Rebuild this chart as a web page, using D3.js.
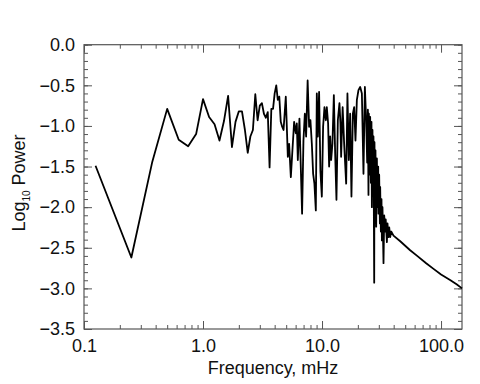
<!DOCTYPE html>
<html>
<head>
<meta charset="utf-8">
<script src="https://cdn.jsdelivr.net/npm/d3@7"></script>
<style>
  body { margin: 0; background: #fff; }
  text { font-family: "Liberation Sans", Arial, sans-serif; fill: #111; }
</style>
</head>
<body>
<div id="chart"></div>
<script>
// Espectro de potencia (log10) vs frecuencia en mHz

// tramo bajo: paso de 0.125 mHz
const lowFreq = [0.125, 0.25, 0.375, 0.5, 0.625, 0.75, 0.875, 1.0, 1.125, 1.25,
  1.375, 1.5, 1.625, 1.75, 1.875, 2.0, 2.125, 2.25, 2.375, 2.5, 2.625, 2.75,
  2.875, 3.0, 3.125, 3.25, 3.375, 3.5, 3.625, 3.75, 3.875, 4.0];
const lowPower = [-1.49, -2.62, -1.44, -0.79, -1.17, -1.25, -1.10, -0.67, -0.89, -0.98,
  -1.18, -0.94, -0.63, -1.26, -0.95, -0.82, -0.82, -1.05, -1.33, -1.13, -1.05, -0.61,
  -0.93, -0.75, -0.72, -0.85, -0.90, -0.83, -1.51, -0.79, -0.79, -0.60];

// tramo medio (muy ruidoso)
const midFreq = [4.125, 4.25, 4.375, 4.5, 4.625, 4.75, 4.96, 5.06, 5.16, 5.29, 5.47,
  5.64, 5.83, 6.02, 6.14, 6.26, 6.46, 6.80, 6.98, 7.17, 7.35, 7.57, 7.79, 7.99,
  8.21, 8.42, 8.63, 8.87, 9.04, 9.22, 9.45, 9.69, 9.96, 10.21, 10.48, 10.76, 10.97,
  11.25, 11.47, 11.70, 11.93, 12.23, 12.57, 12.89, 13.22, 13.58, 14.01, 14.28,
  14.47, 14.90, 15.34, 15.95, 16.35, 16.80, 17.23, 17.67, 18.16, 18.62, 19.10,
  19.62, 20.24, 20.92, 21.62, 22.30, 22.91];
const midPower = [-0.50, -0.68, -0.64, -0.95, -1.01, -1.05, -0.64, -1.01, -1.38, -1.22, -1.63,
  -1.30, -0.95, -1.09, -0.97, -1.42, -0.91, -2.08, -1.18, -0.85, -1.13, -0.44, -1.01, -0.93,
  -1.22, -1.59, -1.71, -2.04, -0.60, -1.13, -0.58, -1.55, -1.87, -1.01, -0.77, -0.93, -0.77,
  -0.97, -1.50, -1.13, -1.42, -1.22, -0.62, -1.34, -1.91, -0.93, -0.72, -0.97,
  -1.38, -0.77, -1.22, -1.71, -0.60, -1.42, -0.85, -1.87, -0.85, -0.77, -1.18,
  -0.68, -0.56, -0.52, -0.60, -1.59, -0.52];

// caída (banda densa)
const bandFreq = [23.49, 23.95, 24.28, 24.56, 24.75, 25.04, 25.38, 25.72, 26.03, 26.23,
  26.54, 26.75, 27.06, 27.44, 27.59, 27.97, 28.13, 28.51, 28.90, 29.24, 29.64, 29.81,
  30.21, 30.63, 30.80, 31.22, 31.60, 31.84, 32.21, 32.85, 33.30, 33.95, 34.28, 35.08,
  35.48, 36.18, 36.68, 37.39, 38.13, 39.86];
const bandPower = [-0.93, -1.45, -0.80, -1.85, -0.85, -1.60, -0.89, -1.70, -0.95, -2.00,
  -1.05, -1.83, -1.13, -2.93, -1.20, -2.10, -1.30, -2.24, -1.40, -2.00, -1.50, -2.08,
  -1.60, -2.20, -1.75, -2.30, -1.90, -2.41, -2.00, -2.69, -2.10, -2.30, -2.15, -2.43,
  -2.20, -2.37, -2.25, -2.37, -2.30, -2.35];

// cola suave
const tailFreq = [45.4, 55, 63, 75, 86.5, 100, 120, 135, 150];
const tailPower = [-2.42, -2.53, -2.60, -2.69, -2.76, -2.83, -2.90, -2.95, -3.00];

// ticks
const xMajor = [0.1, 1, 10, 100];
const xMinor = [0.2, 0.3, 0.4, 0.5, 0.6, 0.7, 0.8, 0.9, 2, 3, 4, 5, 6, 7, 8, 9,
  20, 30, 40, 50, 60, 70, 80, 90];
const yMajor = [0, -0.5, -1, -1.5, -2, -2.5, -3, -3.5];
const yMinor = d3.range(-35, 1).map(d => d / 10);

const WIDTH = 480;
const HEIGHT = 384;
const MARGIN = { top: 44.7, bottom: 55, left: 84, right: 18 };
const AXIS_COLOR = "#555";

const svg = d3.select("#chart").append("svg")
  .attr("width", WIDTH)
  .attr("height", HEIGHT);

const x = d3.scaleLog().domain([0.1, 150]).range([MARGIN.left, WIDTH - MARGIN.right]);
const y = d3.scaleLinear().domain([-3.5, 0]).range([HEIGHT - MARGIN.bottom, MARGIN.top]);

const datos = []
  .concat(lowFreq.map((f, i) => ({ f, p: lowPower[i] })))
  .concat(midFreq.map((f, i) => ({ f, p: midPower[i] })))
  .concat(bandFreq.map((f, i) => ({ f, p: bandPower[i] })))
  .concat(tailFreq.map((f, i) => ({ f, p: tailPower[i] })));

// ejes: ticks hacia adentro en los 4 lados
function dibujarEje(axis, transform, labels) {
  const g = svg.append("g").attr("transform", transform).call(axis);
  g.select(".domain").remove();
  g.selectAll(".tick line").attr("stroke", AXIS_COLOR).attr("stroke-width", 1);
  g.selectAll("text")
    .attr("font-size", 18)
    .attr("fill", "#111")
    .style("display", labels ? null : "none");
  return g;
}

const yBot = y(-3.5), yTop = y(0), xL = x(0.1), xR = x(150);
const fmt = d3.format(".1f");

dibujarEje(d3.axisBottom(x).tickValues(xMajor).tickSize(-8).tickPadding(10).tickFormat(fmt), `translate(0,${yBot})`, true);
dibujarEje(d3.axisBottom(x).tickValues(xMinor).tickSize(-4).tickFormat(""), `translate(0,${yBot})`, false);
dibujarEje(d3.axisTop(x).tickValues(xMajor).tickSize(-8).tickFormat(""), `translate(0,${yTop})`, false);
dibujarEje(d3.axisTop(x).tickValues(xMinor).tickSize(-4).tickFormat(""), `translate(0,${yTop})`, false);
dibujarEje(d3.axisLeft(y).tickValues(yMajor).tickSize(-8).tickPadding(9).tickFormat(fmt), `translate(${xL},0)`, true);
dibujarEje(d3.axisLeft(y).tickValues(yMinor).tickSize(-4).tickFormat(""), `translate(${xL},0)`, false);
dibujarEje(d3.axisRight(y).tickValues(yMajor).tickSize(-8).tickFormat(""), `translate(${xR},0)`, false);
dibujarEje(d3.axisRight(y).tickValues(yMinor).tickSize(-4).tickFormat(""), `translate(${xR},0)`, false);

svg.append("rect")
  .attr("x", xL).attr("y", yTop)
  .attr("width", xR - xL).attr("height", yBot - yTop)
  .attr("fill", "none")
  .attr("stroke", AXIS_COLOR)
  .attr("stroke-width", 1.2);

// curva
svg.append("path")
  .datum(datos)
  .attr("fill", "none")
  .attr("stroke", "#000")
  .attr("stroke-width", 1.8)
  .attr("stroke-linejoin", "round")
  .attr("d", d3.line().x(d => x(d.f)).y(d => y(d.p)));

// títulos
svg.append("text")
  .attr("x", (xL + xR) / 2)
  .attr("y", 374)
  .attr("text-anchor", "middle")
  .attr("font-size", 18)
  .text("Frequency, mHz");

const ty = svg.append("text")
  .attr("transform", "translate(25,183) rotate(-90)")
  .attr("text-anchor", "middle")
  .attr("font-size", 18);
ty.append("tspan").text("Log");
ty.append("tspan").attr("font-size", 10).attr("dy", 5).text("10");
ty.append("tspan").attr("dy", -5).text(" Power");
</script>
</body>
</html>
